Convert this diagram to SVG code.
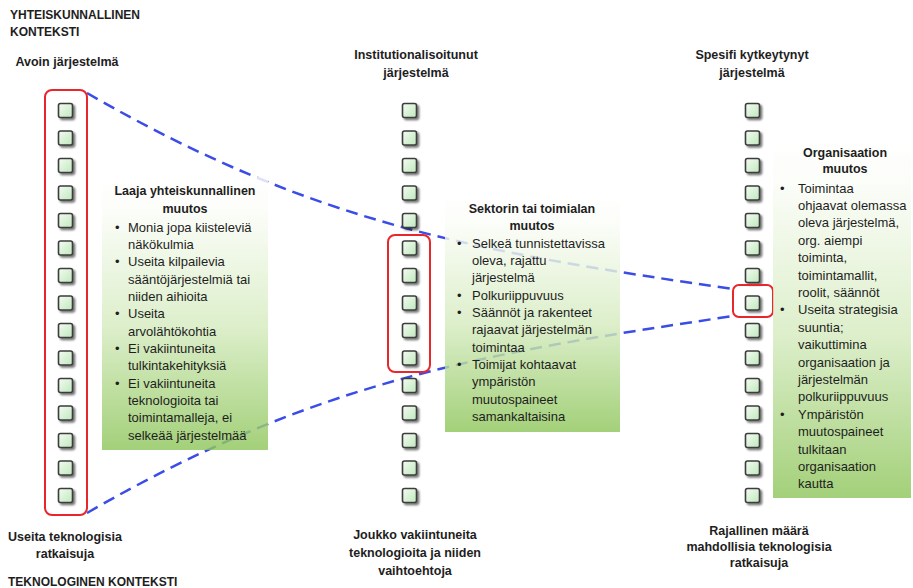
<svg xmlns="http://www.w3.org/2000/svg" xmlns:xlink="http://www.w3.org/1999/xlink" width="913" height="588" viewBox="0 0 913 588">
  <defs>
    <linearGradient id="cellFill" x1="0" y1="0" x2="1" y2="1">
      <stop offset="0" stop-color="#f4fcf2"/>
      <stop offset="1" stop-color="#bfe8bc"/>
    </linearGradient>
    <linearGradient id="boxFill" x1="0" y1="0" x2="0" y2="1">
      <stop offset="0" stop-color="#ffffff"/>
      <stop offset="0.12" stop-color="#fbfdf8"/>
      <stop offset="0.55" stop-color="#d5ebbf"/>
      <stop offset="1" stop-color="#8fc65c"/>
    </linearGradient>
    <filter id="cellShadow" x="-40%" y="-40%" width="190%" height="190%">
      <feGaussianBlur in="SourceAlpha" stdDeviation="1.2"/>
      <feOffset dx="1.6" dy="1.8" result="b"/>
      <feComponentTransfer><feFuncA type="linear" slope="0.55"/></feComponentTransfer>
      <feMerge><feMergeNode/><feMergeNode in="SourceGraphic"/></feMerge>
    </filter>
    <rect id="cell" x="-7" y="-7" width="14" height="14" rx="2" ry="2"/>
  </defs>
  <style>
    text { font-family: "Liberation Sans", Arial, sans-serif; fill: #1e1e1e; }
    .hd { font-size: 12.5px; font-weight: bold; text-anchor: middle; }
    .cap { font-size: 12px; font-weight: bold; }
    .bt { font-size: 12.5px; font-weight: bold; text-anchor: middle; }
    .tx { font-size: 13px; }
    .cell { fill: url(#cellFill); stroke: #3c3c3c; stroke-width: 1.6; filter: url(#cellShadow); }
    .frame { fill: none; stroke: #e8262b; stroke-width: 2; }
    .link { fill: none; stroke: #3a4de6; stroke-width: 2.5; stroke-dasharray: 12 7; }
    .box { fill: url(#boxFill); opacity: 0.82; }
  </style>

  <!-- context captions -->
  <g id="captions">
    <text class="cap" x="10" y="19">YHTEISKUNNALLINEN</text>
    <text class="cap" x="10" y="36">KONTEKSTI</text>
    <text class="cap" x="8" y="586">TEKNOLOGINEN KONTEKSTI</text>
  </g>

  <!-- funnel connectors -->
  <g id="connectors">
    <path class="link" d="M87,93 C317,226 483,252.5 733,289"/>
    <path class="link" d="M87,513 C317,380 483,353.5 733,316"/>
  </g>

  <!-- open system column -->
  <g id="col-open">
    <text class="hd" x="67" y="66">Avoin järjestelmä</text>
    <g transform="translate(65.5,0)">
      <use xlink:href="#cell" class="cell" y="110.5"/>
      <use xlink:href="#cell" class="cell" y="138"/>
      <use xlink:href="#cell" class="cell" y="165.5"/>
      <use xlink:href="#cell" class="cell" y="193"/>
      <use xlink:href="#cell" class="cell" y="220.5"/>
      <use xlink:href="#cell" class="cell" y="248"/>
      <use xlink:href="#cell" class="cell" y="275.5"/>
      <use xlink:href="#cell" class="cell" y="303"/>
      <use xlink:href="#cell" class="cell" y="330.5"/>
      <use xlink:href="#cell" class="cell" y="358"/>
      <use xlink:href="#cell" class="cell" y="385.5"/>
      <use xlink:href="#cell" class="cell" y="413"/>
      <use xlink:href="#cell" class="cell" y="440.5"/>
      <use xlink:href="#cell" class="cell" y="468"/>
      <use xlink:href="#cell" class="cell" y="495.5"/>
    </g>
    <rect class="frame" x="45" y="90" width="42" height="425" rx="7"/>
    <text class="bt" x="65" y="541">Useita teknologisia</text>
    <text class="bt" x="65" y="558">ratkaisuja</text>
  </g>

  <!-- institutionalised system column -->
  <g id="col-inst">
    <text class="hd" x="416" y="59">Institutionalisoitunut</text>
    <text class="hd" x="416" y="77">järjestelmä</text>
    <g transform="translate(409.5,0)">
      <use xlink:href="#cell" class="cell" y="110.5"/>
      <use xlink:href="#cell" class="cell" y="138"/>
      <use xlink:href="#cell" class="cell" y="165.5"/>
      <use xlink:href="#cell" class="cell" y="193"/>
      <use xlink:href="#cell" class="cell" y="220.5"/>
      <use xlink:href="#cell" class="cell" y="248"/>
      <use xlink:href="#cell" class="cell" y="275.5"/>
      <use xlink:href="#cell" class="cell" y="303"/>
      <use xlink:href="#cell" class="cell" y="330.5"/>
      <use xlink:href="#cell" class="cell" y="358"/>
      <use xlink:href="#cell" class="cell" y="385.5"/>
      <use xlink:href="#cell" class="cell" y="413"/>
      <use xlink:href="#cell" class="cell" y="440.5"/>
      <use xlink:href="#cell" class="cell" y="468"/>
      <use xlink:href="#cell" class="cell" y="495.5"/>
    </g>
    <rect class="frame" x="388" y="235" width="42" height="137" rx="7"/>
    <text class="bt" x="415" y="539">Joukko vakiintuneita</text>
    <text class="bt" x="415" y="557">teknologioita ja niiden</text>
    <text class="bt" x="415" y="575">vaihtoehtoja</text>
  </g>

  <!-- specific coupled system column -->
  <g id="col-specific">
    <text class="hd" x="752" y="59">Spesifi kytkeytynyt</text>
    <text class="hd" x="752" y="77">järjestelmä</text>
    <g transform="translate(752.5,0)">
      <use xlink:href="#cell" class="cell" y="110.5"/>
      <use xlink:href="#cell" class="cell" y="138"/>
      <use xlink:href="#cell" class="cell" y="165.5"/>
      <use xlink:href="#cell" class="cell" y="193"/>
      <use xlink:href="#cell" class="cell" y="220.5"/>
      <use xlink:href="#cell" class="cell" y="248"/>
      <use xlink:href="#cell" class="cell" y="275.5"/>
      <use xlink:href="#cell" class="cell" y="303"/>
      <use xlink:href="#cell" class="cell" y="330.5"/>
      <use xlink:href="#cell" class="cell" y="358"/>
      <use xlink:href="#cell" class="cell" y="385.5"/>
      <use xlink:href="#cell" class="cell" y="413"/>
      <use xlink:href="#cell" class="cell" y="440.5"/>
      <use xlink:href="#cell" class="cell" y="468"/>
      <use xlink:href="#cell" class="cell" y="495.5"/>
    </g>
    <rect class="frame" x="733" y="285" width="40" height="32" rx="6"/>
    <text class="bt" x="759" y="535">Rajallinen määrä</text>
    <text class="bt" x="759" y="551">mahdollisia teknologisia</text>
    <text class="bt" x="759" y="567">ratkaisuja</text>
  </g>

  <!-- societal change -->
  <g id="box-society">
    <rect class="box" x="102" y="177" width="166" height="273"/>
    <text class="bt" x="185" y="194.5">Laaja yhteiskunnallinen</text>
    <text class="bt" x="185" y="212.5">muutos</text>
    <g class="tx">
      <text x="115" y="231.5">•</text><text x="128" y="231.5">Monia jopa kiisteleviä</text>
      <text x="128" y="248.8">näkökulmia</text>
      <text x="115" y="266.2">•</text><text x="128" y="266.2">Useita kilpailevia</text>
      <text x="128" y="283.5">sääntöjärjestelmiä tai</text>
      <text x="128" y="300.8">niiden aihioita</text>
      <text x="115" y="318.2">•</text><text x="128" y="318.2">Useita</text>
      <text x="128" y="335.5">arvolähtökohtia</text>
      <text x="115" y="352.8">•</text><text x="128" y="352.8">Ei vakiintuneita</text>
      <text x="128" y="370.2">tulkintakehityksiä</text>
      <text x="115" y="387.5">•</text><text x="128" y="387.5">Ei vakiintuneita</text>
      <text x="128" y="404.8">teknologioita tai</text>
      <text x="128" y="422.2">toimintamalleja, ei</text>
      <text x="128" y="439.5">selkeää järjestelmää</text>
    </g>
  </g>

  <!-- sector change -->
  <g id="box-sector">
    <rect class="box" x="445" y="193" width="175" height="239"/>
    <text class="bt" x="532" y="212.5">Sektorin tai toimialan</text>
    <text class="bt" x="532" y="229.5">muutos</text>
    <g class="tx">
      <text x="457" y="247.5">•</text><text x="472" y="247.5">Selkeä tunnistettavissa</text>
      <text x="472" y="264.8">oleva, rajattu</text>
      <text x="472" y="282.1">järjestelmä</text>
      <text x="457" y="299.5">•</text><text x="472" y="299.5">Polkuriippuvuus</text>
      <text x="457" y="316.8">•</text><text x="472" y="316.8">Säännöt ja rakenteet</text>
      <text x="472" y="334.1">rajaavat järjestelmän</text>
      <text x="472" y="351.5">toimintaa</text>
      <text x="457" y="368.8">•</text><text x="472" y="368.8">Toimijat kohtaavat</text>
      <text x="472" y="386.1">ympäristön</text>
      <text x="472" y="403.5">muutospaineet</text>
      <text x="472" y="420.8">samankaltaisina</text>
    </g>
  </g>

  <!-- organisational change -->
  <g id="box-organisation">
    <rect class="box" x="773" y="137" width="138" height="361"/>
    <text class="bt" x="845" y="156.5">Organisaation</text>
    <text class="bt" x="845" y="172.5">muutos</text>
    <g class="tx">
      <text x="780" y="192.5">•</text><text x="798" y="192.5">Toimintaa</text>
      <text x="798" y="209.9">ohjaavat olemassa</text>
      <text x="798" y="227.3">oleva järjestelmä,</text>
      <text x="798" y="244.7">org. aiempi</text>
      <text x="798" y="262.1">toiminta,</text>
      <text x="798" y="279.5">toimintamallit,</text>
      <text x="798" y="296.9">roolit, säännöt</text>
      <text x="780" y="314.3">•</text><text x="798" y="314.3">Useita strategisia</text>
      <text x="798" y="331.7">suuntia;</text>
      <text x="798" y="349.1">vaikuttimina</text>
      <text x="798" y="366.5">organisaation ja</text>
      <text x="798" y="383.9">järjestelmän</text>
      <text x="798" y="401.3">polkuriippuvuus</text>
      <text x="780" y="418.7">•</text><text x="798" y="418.7">Ympäristön</text>
      <text x="798" y="436.1">muutospaineet</text>
      <text x="798" y="453.5">tulkitaan</text>
      <text x="798" y="470.9">organisaation</text>
      <text x="798" y="488.3">kautta</text>
    </g>
  </g>
</svg>
